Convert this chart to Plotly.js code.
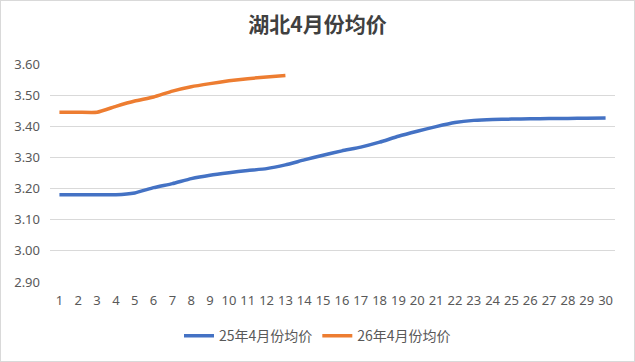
<!DOCTYPE html>
<html>
<head>
<meta charset="utf-8">
<script src="https://cdn.plot.ly/plotly-3.0.1.min.js"></script>
<style>
  html, body { margin: 0; padding: 0; background: #fff; }
  #chart { position: absolute; left: 0; top: 0; width: 635px; height: 362px; box-sizing: border-box; border: 1px solid #d9d9d9; }
</style>
</head>
<body>
<div id="chart"></div>
<script>
const days = Array.from({length: 30}, (_, i) => String(i + 1));
const series25Name = "25年4月份均价";
const series26Name = "26年4月份均价";
const values25 = [3.18, 3.18, 3.18, 3.18, 3.186, 3.203, 3.216, 3.232, 3.243, 3.251,
                  3.258, 3.264, 3.276, 3.292, 3.307, 3.321, 3.333, 3.349, 3.368, 3.384,
                  3.399, 3.412, 3.419, 3.422, 3.423, 3.424, 3.425, 3.425, 3.426, 3.427];
const values26 = [3.445, 3.445, 3.445, 3.464, 3.481, 3.494, 3.513, 3.527, 3.537, 3.546,
                  3.553, 3.558, 3.563];
const yTicks = [2.9, 3.0, 3.1, 3.2, 3.3, 3.4, 3.5, 3.6];
const chartTitle = "湖北4月份均价";

const font = "'Noto Sans', 'Noto Sans CJK SC', sans-serif";

const traces = [
  { x: days, y: values25, name: series25Name, type: "scatter", mode: "lines",
    line: { color: "#4472C4", width: 3.5, shape: "spline", smoothing: 0.45 } },
  { x: days.slice(0, values26.length), y: values26, name: series26Name, type: "scatter", mode: "lines",
    line: { color: "#ED7D31", width: 3.5, shape: "spline", smoothing: 0.45 } }
];

const layout = {
  width: 633, height: 360,
  margin: { l: 49, r: 19, t: 63, b: 79 },
  paper_bgcolor: "#fff", plot_bgcolor: "#fff",
  font: { family: font, color: "#595959", size: 13 },
  title: { text: "<b>" + chartTitle + "</b>", x: 0.5, xanchor: "center", y: 0.933, yanchor: "middle",
           font: { family: "'Noto Sans CJK SC', sans-serif", size: 21, color: "#404040" } },
  xaxis: { type: "category", range: [-0.5, 29.5], tickvals: days, ticktext: days, showgrid: false, zeroline: false,
           showline: false, ticks: "", ticklabelstandoff: 9, tickfont: { size: 13, color: "#595959" }, fixedrange: true,
           automargin: false },
  yaxis: { range: [2.9, 3.6], tickvals: yTicks, ticktext: yTicks.map(v => v.toFixed(2)),
           showgrid: true, gridcolor: "#d9d9d9", gridwidth: 1, zeroline: false, showline: false,
           ticks: "", ticklabelstandoff: 9, tickfont: { size: 13, color: "#595959" }, automargin: false },
  showlegend: true,
  legend: { orientation: "h", xref: "container", x: 0.5, xanchor: "center", yref: "container", y: 0.069, yanchor: "middle",
            font: { family: "'Noto Sans CJK SC', sans-serif", size: 14, color: "#595959" },
            tracegroupgap: 0 }
};

Plotly.newPlot("chart", traces, layout, { displayModeBar: false, staticPlot: true });
</script>
</body>
</html>
